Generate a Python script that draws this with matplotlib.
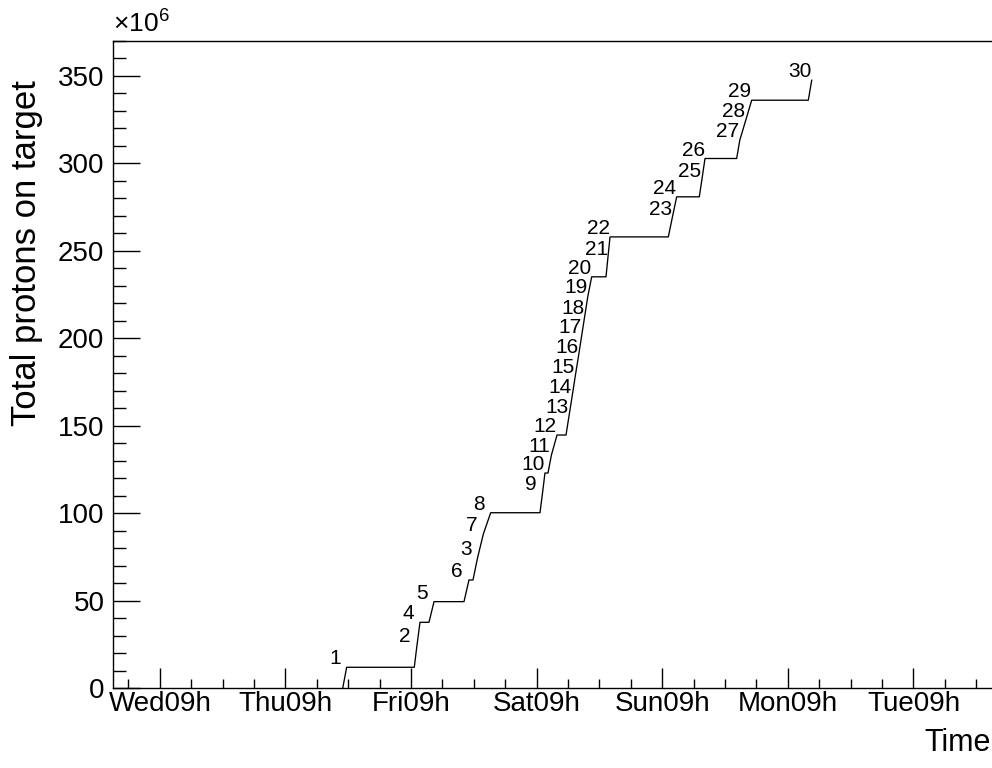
import matplotlib
matplotlib.use('Agg')
import matplotlib.pyplot as plt
from matplotlib.ticker import FixedLocator, MultipleLocator

plt.rcParams['font.family'] = ['Liberation Sans', 'DejaVu Sans']
plt.rcParams['mathtext.fontset'] = 'custom'
plt.rcParams['mathtext.rm'] = 'Liberation Sans'

# Runs in time order (times in hours since Wednesday 00h, POT in units of 1e6)
run_ids = [1, 2, 4, 5, 6, 3, 7, 8, 9, 10, 11, 12, 13, 14, 15, 16, 17, 18, 19, 20,
           21, 22, 23, 24, 25, 26, 27, 28, 29, 30]
run_start = [43.93, 57.61, 58.13, 60.42, 67.11, 68.83, 69.69, 70.80, 81.63, 82.11,
             83.16, 83.81, 86.60, 87.17, 87.78, 88.37, 88.99, 89.58, 90.15, 90.78,
             94.24, 94.60, 106.15, 106.89, 112.07, 112.55, 119.21, 119.81, 120.95, 132.90]
run_end = [44.69, 58.13, 58.70, 61.38, 68.06, 69.69, 70.80, 72.21, 82.11, 82.58,
           83.81, 84.88, 87.17, 87.78, 88.37, 88.99, 89.58, 90.15, 90.78, 91.51,
           94.60, 95.01, 106.89, 107.75, 112.55, 113.16, 119.81, 120.95, 122.08, 133.55]
total_pot = [12.0, 24.7, 37.7, 49.5, 61.9, 74.4, 88.1, 100.3, 111.5, 123.0,
             133.2, 144.7, 155.5, 166.9, 178.4, 189.8, 201.2, 212.1, 224.1, 235.1,
             245.8, 257.9, 268.6, 280.8, 290.3, 302.7, 313.2, 324.6, 336.0, 347.4]

day_ticks = [9, 33, 57, 81, 105, 129, 153]
day_labels = ['Wed09h', 'Thu09h', 'Fri09h', 'Sat09h', 'Sun09h', 'Mon09h', 'Tue09h']

# build the cumulative curve
xs, ys = [], []
prev = 0.0
for s, e, p in zip(run_start, run_end, total_pot):
    xs += [s, e]
    ys += [prev, p]
    prev = p

fig = plt.figure(figsize=(9.92, 7.68), dpi=100)
ax = fig.add_axes([0.1137, 0.1038, 0.8863, 0.8432])
ax.plot(xs, ys, color='black', lw=0.95)

for rid, e, p in zip(run_ids, run_end, total_pot):
    ax.annotate(str(rid), (e, p), xytext=(-8.5, 6), textcoords='offset points',
                ha='center', va='center', fontsize=15)

ax.set_xlim(0, 168)
ax.set_ylim(0, 370)
ax.spines['right'].set_visible(False)
for s in ['left', 'bottom', 'top']:
    ax.spines[s].set_linewidth(1.0)

ax.xaxis.set_major_locator(FixedLocator(day_ticks))
ax.set_xticklabels(day_labels)
ax.xaxis.set_minor_locator(MultipleLocator(6, offset=3))
ax.yaxis.set_major_locator(MultipleLocator(50))
ax.yaxis.set_minor_locator(MultipleLocator(10))

ax.tick_params(axis='x', which='major', direction='in', length=14.4, width=1.0,
               labelsize=20, pad=2, top=False)
ax.tick_params(axis='x', which='minor', direction='in', length=6.5, width=1.0, top=False)
ax.tick_params(axis='y', which='major', direction='in', length=19.4, width=1.0,
               labelsize=20, pad=6, right=False)
ax.tick_params(axis='y', which='minor', direction='in', length=9.6, width=1.0, right=False)

ax.text(0, 1.006, r'$\times 10^{6}$', transform=ax.transAxes, ha='left', va='bottom',
        fontsize=19)
fig.text(0.0272, 0.896, 'Total protons on target', rotation=90, ha='center', va='top',
         fontsize=25)
fig.text(0.999, 0.033, 'Time', ha='right', va='center', fontsize=22)

plt.savefig('out.png', dpi=100)
